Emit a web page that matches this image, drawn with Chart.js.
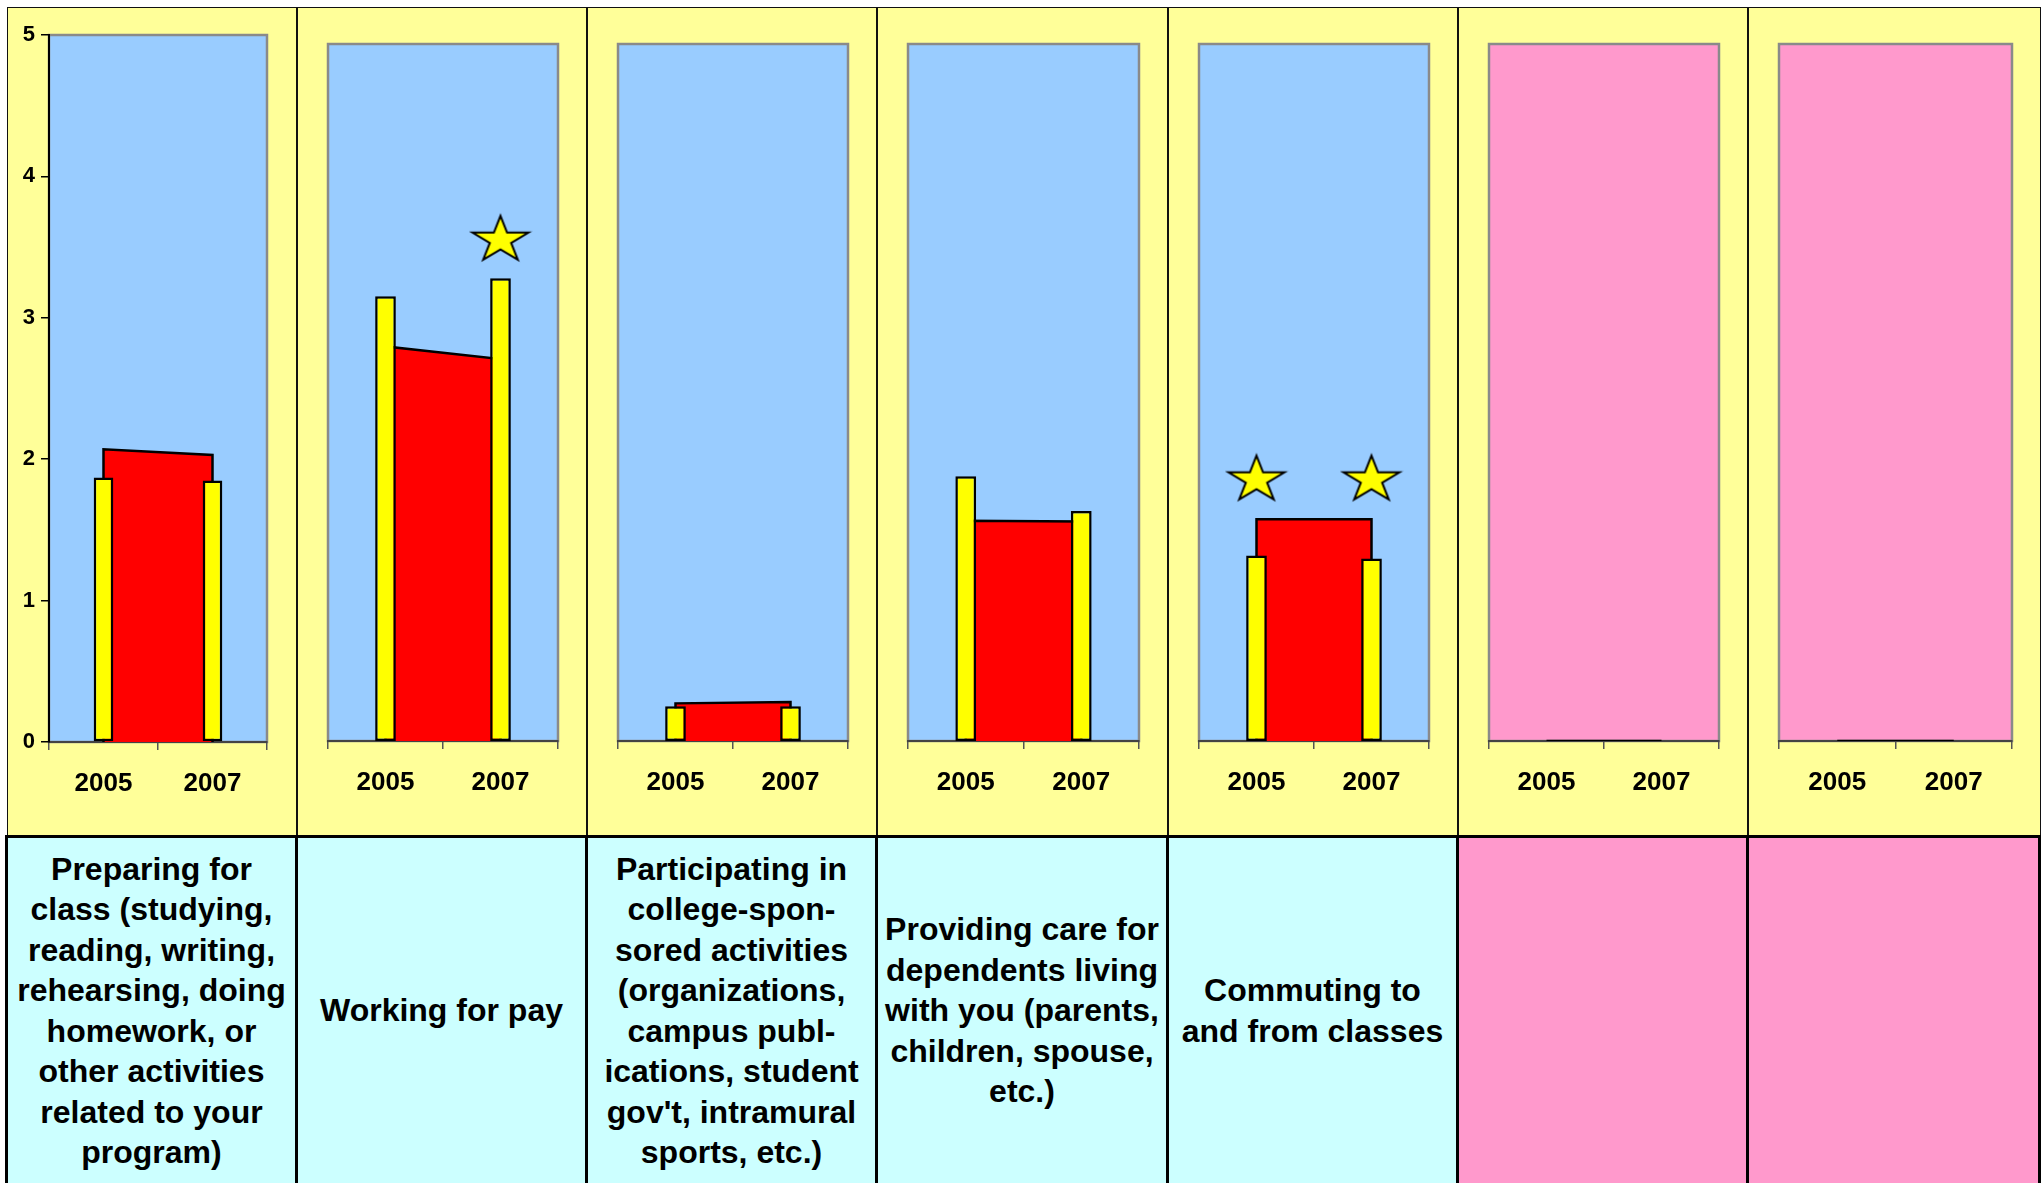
<!DOCTYPE html>
<html><head><meta charset="utf-8">
<script src="https://cdn.jsdelivr.net/npm/chart.js@4.4.1/dist/chart.umd.min.js"></script>
<style>
html,body{margin:0;padding:0;background:#fff;}
body{width:2041px;height:1183px;overflow:hidden;position:relative;font-family:"Liberation Sans",Arial,sans-serif;}
.panel{position:absolute;top:7px;height:829px;background:#FFFF99;}
.panel canvas{position:absolute;left:0;top:0;}
.panel .frame{position:absolute;left:0;top:0;right:0;bottom:0;border:1.5px solid #111;border-bottom:none;pointer-events:none;}
.label{position:absolute;top:835px;height:348px;box-sizing:border-box;border-top:3px solid #000;border-left:3px solid #000;display:flex;align-items:center;justify-content:center;text-align:center;font-weight:bold;font-size:32px;line-height:40.5px;color:#000;white-space:nowrap;}
</style></head><body>
<script>
// ---- data ----
const years = ['2005', '2007'];
const categories = [
  ['Preparing for', 'class (studying,', 'reading, writing,', 'rehearsing, doing', 'homework, or', 'other activities', 'related to your', 'program)'],
  ['Working for pay'],
  ['Participating in', 'college-spon-', 'sored activities', '(organizations,', 'campus publ-', 'ications, student', "gov't, intramural", 'sports, etc.)'],
  ['Providing care for', 'dependents living', 'with you (parents,', 'children, spouse,', 'etc.)'],
  ['Commuting to', 'and from classes'],
  [],
  []
];
const bar2005 = [1.87, 3.19, 0.25, 1.90, 1.33, null, null];
const bar2007 = [1.85, 3.32, 0.25, 1.65, 1.31, null, null];
const area2005 = [2.07, 2.83, 0.27, 1.58, 1.59, 0, 0];
const area2007 = [2.03, 2.74, 0.28, 1.575, 1.59, 0, 0];
const star2005 = [null, null, null, null, 1.89, null, null];
const star2007 = [null, 3.61, null, null, 1.89, null, null];
const yTicks = [0, 1, 2, 3, 4, 5];

// ---- layout / styles ----
const panelLeft = [7, 297, 587, 877, 1168, 1458, 1748];
const plotColor = ['#99CCFF', '#99CCFF', '#99CCFF', '#99CCFF', '#99CCFF', '#FF99CC', '#FF99CC'];
const labelColor = ['#CCFFFF', '#CCFFFF', '#CCFFFF', '#CCFFFF', '#CCFFFF', '#FF99CC', '#FF99CC'];
const FONT = '"Liberation Sans", Arial, sans-serif';

function makeStar() {
  const w = 64, h = 52;
  const c = document.createElement('canvas');
  c.width = w; c.height = h;
  const g = c.getContext('2d');
  const sx = 29.4, sy = 24.3;
  const cx = w / 2, cy = h / 2 + 0.0955 * sy;
  g.beginPath();
  for (let k = 0; k < 10; k++) {
    const ang = (-90 + k * 36) * Math.PI / 180;
    const rr = k % 2 === 0 ? 1 : 0.382;
    const x = cx + Math.cos(ang) * rr * sx;
    const y = cy + Math.sin(ang) * rr * sy;
    if (k === 0) g.moveTo(x, y); else g.lineTo(x, y);
  }
  g.closePath();
  g.fillStyle = '#FFFF00';
  g.fill();
  g.lineWidth = 2;
  g.lineJoin = 'miter';
  g.strokeStyle = '#000';
  g.stroke();
  return c;
}
const starImg = makeStar();

const plotBg = {
  id: 'plotBg',
  beforeDraw(chart, args, opts) {
    const { ctx, chartArea: a } = chart;
    ctx.save();
    ctx.fillStyle = opts.color;
    ctx.fillRect(a.left, a.top, a.width, a.height);
    ctx.strokeStyle = '#8a8a8a';
    ctx.lineWidth = 2.5;
    ctx.strokeRect(a.left, a.top, a.width, a.height);
    ctx.restore();
  }
};

for (let i = 0; i < categories.length; i++) {
  const left = panelLeft[i];
  const width = (i < panelLeft.length - 1 ? panelLeft[i + 1] : 2041) - left;
  const first = i === 0;

  const panel = document.createElement('div');
  panel.className = 'panel';
  panel.style.left = left + 'px';
  panel.style.width = width + 'px';
  const cv = document.createElement('canvas');
  cv.width = width; cv.height = 829;
  cv.style.width = width + 'px'; cv.style.height = '829px';
  panel.appendChild(cv);
  const frame = document.createElement('div');
  frame.className = 'frame';
  panel.appendChild(frame);
  document.body.appendChild(panel);

  const lab = document.createElement('div');
  lab.className = 'label';
  lab.style.left = (left - 2) + 'px';
  const lw = (i < panelLeft.length - 1 ? panelLeft[i + 1] : 2043) - left;
  lab.style.width = lw + 'px';
  if (i === panelLeft.length - 1) lab.style.borderRight = '3px solid #000';
  lab.style.background = labelColor[i];
  lab.innerHTML = categories[i].map(s => s.replace(/&/g, '&amp;')).join('<br>');
  document.body.appendChild(lab);

  new Chart(cv, {
    type: 'bar',
    data: {
      labels: years,
      datasets: [
        {
          type: 'line',
          data: [
            { x: years[0], y: 0 },
            { x: years[0], y: area2005[i] },
            { x: years[1], y: area2007[i] },
            { x: years[1], y: 0 }
          ],
          borderColor: '#000',
          borderWidth: 2.5,
          backgroundColor: '#FF0000',
          fill: 'origin',
          pointRadius: 0,
          tension: 0,
          order: 3
        },
        {
          type: 'bar',
          data: [bar2005[i], bar2007[i]],
          backgroundColor: '#FFFF00',
          borderColor: '#000',
          borderWidth: 2.5,
          borderSkipped: false,
          barPercentage: 0.18,
          categoryPercentage: 1,
          order: 2
        },
        {
          type: 'line',
          data: [star2005[i], star2007[i]],
          showLine: false,
          pointStyle: starImg,
          pointRadius: 20,
          order: 1
        }
      ]
    },
    options: {
      responsive: false,
      animation: false,
      events: [],
      layout: { padding: { left: first ? 0 : 31, top: first ? 28 : 37, right: first ? 30 : 29, bottom: first ? 34 : 35 } },
      plugins: {
        legend: { display: false },
        tooltip: { enabled: false },
        plotBg: { color: plotColor[i] }
      },
      scales: {
        x: {
          type: 'category',
          offset: true,
          grid: { offset: true, drawOnChartArea: false, tickLength: 8, color: '#555', lineWidth: 1.5 },
          border: { color: '#444', width: 2 },
          ticks: { font: { family: FONT, size: 26, weight: 'bold' }, color: '#000', padding: 18, maxRotation: 0 },
          afterFit: s => { s.height = 60; }
        },
        y: {
          display: first,
          min: yTicks[0],
          max: yTicks[yTicks.length - 1],
          afterBuildTicks: s => { s.ticks = yTicks.map(v => ({ value: v })); },
          ticks: { font: { family: FONT, size: 22, weight: 'bold' }, color: '#000', padding: 6 },
          grid: { drawOnChartArea: false, tickLength: 8, color: '#000', lineWidth: 1.5 },
          border: { color: '#000', width: 2 },
          afterFit: s => { s.width = first ? 42 : 0; }
        }
      }
    },
    plugins: [plotBg]
  });
}
</script>
</body></html>
